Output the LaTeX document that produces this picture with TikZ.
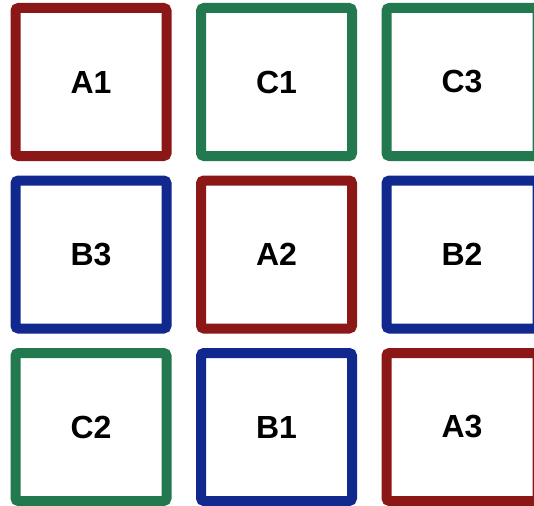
\documentclass[tikz,border=0pt]{standalone}
\usepackage{fontspec}
\setmainfont{Liberation Sans}
\usetikzlibrary{positioning}
\definecolor{tileRed}  {HTML}{8C1717}
\definecolor{tileGreen}{HTML}{22784F}
\definecolor{tileBlue} {HTML}{11288F}

\begin{document}
\begin{tikzpicture}[
        every node/.style={font=\fontsize{32}{36}\selectfont\bfseries},
        tile/.style={draw, line width=10pt, rounded corners=3pt, fill=white, minimum width=151pt, minimum height=148pt, inner sep=0pt},
        red/.style={tile, draw=tileRed},
        green/.style={tile, draw=tileGreen},
        blue/.style={tile, draw=tileBlue}
    ]
        \useasboundingbox (0,0) rectangle (534pt,-505pt);
        \node[red] (a1) at (91pt,-82pt) {A1};
        \node[green, right=24.5pt of a1] (c1) {C1};
        \node[green, right=24.5pt of c1] (c3) {C3};
        \node[blue, below=14.5pt of a1] (b3) {B3};
        \node[red, right=24.5pt of b3] (a2) {A2};
        \node[blue, right=24.5pt of a2] (b2) {B2};
        \node[green, below=14.5pt of b3] (c2) {C2};
        \node[blue, right=24.5pt of c2] (b1) {B1};
        \node[red, right=24.5pt of b1] (a3) {A3};
    \end{tikzpicture}
\end{document}
